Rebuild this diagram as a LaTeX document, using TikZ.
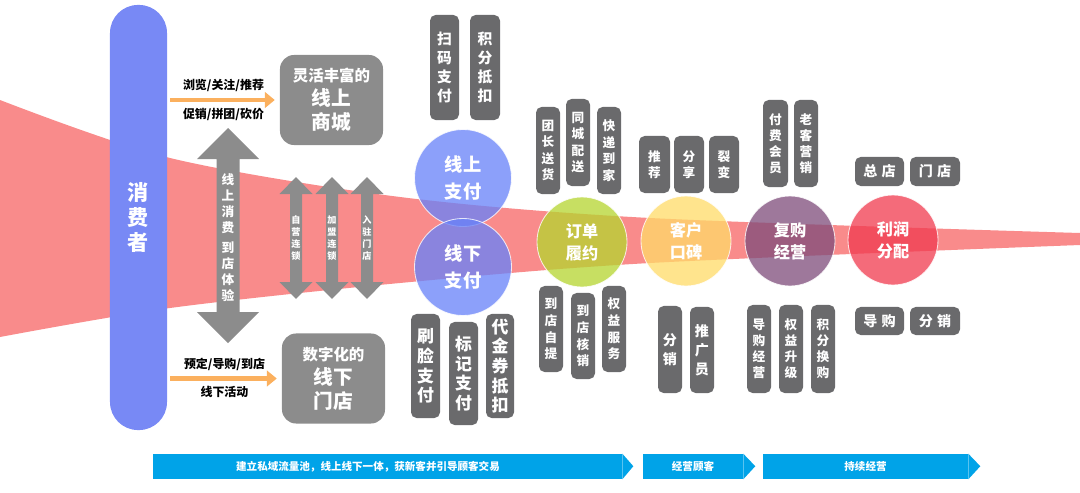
\documentclass[tikz,border=0pt]{standalone}
\usepackage{fontspec}
\setmainfont{Noto Sans CJK SC}
\usetikzlibrary{positioning, arrows.meta}

\definecolor{funnelred}{RGB}{249,139,139}
\definecolor{userblue}{RGB}{120,137,245}
\definecolor{flowgray}{RGB}{140,140,140}
\definecolor{taggray}{RGB}{106,106,108}
\definecolor{feedorange}{RGB}{251,176,94}
\definecolor{phaseblue}{RGB}{0,163,232}
\definecolor{payblue}{RGB}{104,130,249}
\definecolor{ordergreen}{RGB}{181,213,48}
\definecolor{wordyellow}{RGB}{255,219,105}
\definecolor{rebuyplum}{RGB}{127,77,123}
\definecolor{profitred}{RGB}{241,60,80}

\begin{document}
\begin{tikzpicture}[x=0.025cm, y=-0.025cm, font=\bfseries, tag/.style={fill=taggray, text=white, rounded corners=4pt, align=center, inner sep=0pt}, hub/.style={fill=flowgray, text=white, rounded corners=10pt, align=center, inner sep=0pt, minimum width=2.575cm, minimum height=2.25cm, font=\bfseries\fontsize{14}{17}\selectfont}, stage/.style={circle, draw=white, draw opacity=0.8, line width=0.6pt, fill opacity=0.76, text opacity=1, text=white, align=center, inner sep=0pt}, feed/.style={-{Triangle[length=7pt, width=11pt]}, feedorange, line width=3.5pt, shorten <=2pt, shorten >=3.5pt}, feedlabel/.style={text=black, inner sep=0pt, font=\bfseries\fontsize{8.5}{10}\selectfont}, phase/.style={fill=phaseblue, inner sep=0pt, minimum height=0.625cm}, phasetext/.style={text=white, inner sep=0pt, font=\bfseries\fontsize{7.5}{9}\selectfont}, fat/.style={fill=flowgray}]
\useasboundingbox (0,0) rectangle (1080,493);
% funnel
\fill[funnelred] plot[smooth] coordinates {(0,100) (170,158) (400,197) (650,218) (1080,233)} -- plot[smooth] coordinates {(1080,245) (650,263) (400,283) (170,308) (0,337)} -- cycle;
% consumer and the two channels
\node[fill=userblue, rounded corners=0.7cm, minimum width=1.425cm, minimum height=10.625cm, text=white, align=center, font=\bfseries\fontsize{15}{17.5}\selectfont] (user) at (138.5,217.5) {消\\费\\者};
\node[hub] (mall) at (331.5,100) {{\fontsize{11}{17}\selectfont 灵活丰富的}\\线上\\商城};
\node[hub] (store) at (333.5,378.5) {{\fontsize{11}{17}\selectfont 数字化的}\\线下\\门店};
\draw[feed] (user.east |- mall.west) -- (mall.west) node[midway, above=4pt, feedlabel] {浏览/关注/推荐} node[midway, below=4pt, feedlabel] {促销/拼团/砍价};
\draw[feed] (user.east |- store.west) -- (store.west) node[midway, above=4pt, feedlabel] {预定/导购/到店} node[midway, below=4pt, feedlabel] {线下活动};
% online <-> offline
\fill[fat] (228,128) -- (259,159) -- (239.5,159) -- (239.5,312) -- (259,312) -- (228,343) -- (197,312) -- (216.5,312) -- (216.5,159) -- (197,159) -- cycle;
\node[text=white, align=center, inner sep=0pt, font=\bfseries\fontsize{9}{11.4}\selectfont] (link) at (228,237.5) {线\\上\\消\\费\\[3pt]到\\店\\体\\验};
\foreach \x/\t/\n in {296/{自\\营\\连\\锁}/self, 332/{加\\盟\\连\\锁}/join, 367/{入\\驻\\门\\店}/settle} {
  \fill[fat] (\x,177) -- (\x+16.5,194) -- (\x+6,194) -- (\x+6,282) -- (\x+16.5,282) -- (\x,299) -- (\x-16.5,282) -- (\x-6,282) -- (\x-6,194) -- (\x-16.5,194) -- cycle;
  \node[text=white, align=center, inner sep=0pt, font=\bfseries\fontsize{6.5}{8.5}\selectfont] (\n) at (\x,238) {\t};
}
% stages
\node[stage, fill=payblue, minimum size=2.425cm, font=\bfseries\fontsize{13}{19}\selectfont] (online) at (463,178) {线上\\支付};
\node[stage, fill=payblue, minimum size=2.425cm, font=\bfseries\fontsize{13}{19}\selectfont] (offline) at (463,267) {线下\\支付};
\node[stage, fill=ordergreen, minimum size=2.25cm, font=\bfseries\fontsize{11.5}{15.6}\selectfont] (order) at (582,242) {订单\\履约};
\node[stage, fill=wordyellow, minimum size=2.25cm, font=\bfseries\fontsize{11.5}{15.6}\selectfont] (word) at (686,241) {客户\\口碑};
\node[stage, fill=rebuyplum, minimum size=2.25cm, font=\bfseries\fontsize{11.5}{15.6}\selectfont] (rebuy) at (790,241) {复购\\经营};
\node[stage, fill=profitred, minimum size=2.25cm, font=\bfseries\fontsize{11.5}{15.6}\selectfont] (profit) at (893,240) {利润\\分配};
% payment tags
\node[tag, minimum width=0.725cm, minimum height=2.625cm, font=\bfseries\fontsize{10.5}{13.5}\selectfont] (scan) at (444.5,67.5) {扫\\码\\支\\付};
\node[tag, minimum width=0.75cm, minimum height=2.625cm, font=\bfseries\fontsize{10.5}{13.5}\selectfont] (points) at (485,67.5) {积\\分\\抵\\扣};
\node[tag, minimum width=0.725cm, minimum height=2.6cm, font=\bfseries\fontsize{12}{14}\selectfont] (face) at (425.5,366) {刷\\脸\\支\\付};
\node[tag, minimum width=0.725cm, minimum height=2.575cm, font=\bfseries\fontsize{12}{14}\selectfont] (mark) at (463.5,373.5) {标\\记\\支\\付};
\node[tag, minimum width=0.7cm, minimum height=2.6cm, font=\bfseries\fontsize{12}{14}\selectfont] (coupon) at (500,366) {代\\金\\券\\抵\\扣};
% order tags
\node[tag, minimum width=0.6cm, minimum height=2.175cm, font=\bfseries\fontsize{9}{11.8}\selectfont] (team) at (548,150.5) {团\\长\\送\\货};
\node[tag, minimum width=0.6cm, minimum height=2.175cm, font=\bfseries\fontsize{9}{11.8}\selectfont] (city) at (578,142.5) {同\\城\\配\\送};
\node[tag, minimum width=0.6cm, minimum height=2.175cm, font=\bfseries\fontsize{9}{11.8}\selectfont] (express) at (609,150.5) {快\\递\\到\\家};
\node[tag, minimum width=0.6cm, minimum height=2.15cm, font=\bfseries\fontsize{9}{11.8}\selectfont] (pickup) at (551,329) {到\\店\\自\\提};
\node[tag, minimum width=0.6cm, minimum height=2.15cm, font=\bfseries\fontsize{9}{11.8}\selectfont] (verify) at (583,336) {到\\店\\核\\销};
\node[tag, minimum width=0.6cm, minimum height=2.15cm, font=\bfseries\fontsize{9}{11.8}\selectfont] (rights) at (614,329) {权\\益\\服\\务};
% word of mouth tags
\node[tag, minimum width=0.775cm, minimum height=1.425cm, font=\bfseries\fontsize{9}{11.4}\selectfont] (recommend) at (654.5,164.5) {推\\荐};
\node[tag, minimum width=0.75cm, minimum height=1.425cm, font=\bfseries\fontsize{9}{11.4}\selectfont] (share) at (689,164.5) {分\\享};
\node[tag, minimum width=0.75cm, minimum height=1.425cm, font=\bfseries\fontsize{9}{11.4}\selectfont] (fission) at (724,164.5) {裂\\变};
\node[tag, minimum width=0.6cm, minimum height=2.175cm, font=\bfseries\fontsize{10}{13.5}\selectfont] (distrib) at (670,349.5) {分\\销};
\node[tag, minimum width=0.6cm, minimum height=2.15cm, font=\bfseries\fontsize{10}{13.5}\selectfont] (promoter) at (702,350) {推\\广\\员};
% repurchase tags
\node[tag, minimum width=0.625cm, minimum height=2.175cm, font=\bfseries\fontsize{9}{11.4}\selectfont] (member) at (775.5,143.5) {付\\费\\会\\员};
\node[tag, minimum width=0.6cm, minimum height=2.175cm, font=\bfseries\fontsize{9}{11.4}\selectfont] (veteran) at (806,143.5) {老\\客\\营\\销};
\node[tag, minimum width=0.6cm, minimum height=2.2cm, font=\bfseries\fontsize{9}{11.4}\selectfont] (guide) at (759,349) {导\\购\\经\\营};
\node[tag, minimum width=0.6cm, minimum height=2.2cm, font=\bfseries\fontsize{9}{11.4}\selectfont] (upgrade) at (791,349) {权\\益\\升\\级};
\node[tag, minimum width=0.6cm, minimum height=2.2cm, font=\bfseries\fontsize{9}{11.4}\selectfont] (swap) at (823,349) {积\\分\\换\\购};
% profit tags
\node[tag, minimum width=1.225cm, minimum height=0.725cm, font=\bfseries\fontsize{10}{12}\selectfont] (hq) at (879.5,171.5) {总\hspace{3pt}店};
\node[tag, minimum width=1.25cm, minimum height=0.725cm, font=\bfseries\fontsize{10}{12}\selectfont] (outlet) at (935,171.5) {门\hspace{3pt}店};
\node[tag, minimum width=1.225cm, minimum height=0.7cm, font=\bfseries\fontsize{10}{12}\selectfont] (guider) at (879.5,321) {导\hspace{3pt}购};
\node[tag, minimum width=1.25cm, minimum height=0.7cm, font=\bfseries\fontsize{10}{12}\selectfont] (reseller) at (935,321) {分\hspace{3pt}销};
% phases
\node[phase, minimum width=11.725cm] (build) at (387.5,466.5) {};
\fill[phaseblue] (build.north east) -- ++(11,12.5) -- (build.south east) -- cycle;
\node[phasetext] (buildtext) at (368,466.5) {建立私域流量池，线上线下一体，获新客并引导顾客交易};
\node[phase, minimum width=2.5cm, phasetext] (serve) at (693,466.5) {经营顾客};
\fill[phaseblue] (serve.north east) -- ++(12,12.5) -- (serve.south east) -- cycle;
\node[phase, minimum width=5.125cm, phasetext] (keep) at (865.5,466.5) {持续经营};
\fill[phaseblue] (keep.north east) -- ++(12,12.5) -- (keep.south east) -- cycle;
\end{tikzpicture}
\end{document}
